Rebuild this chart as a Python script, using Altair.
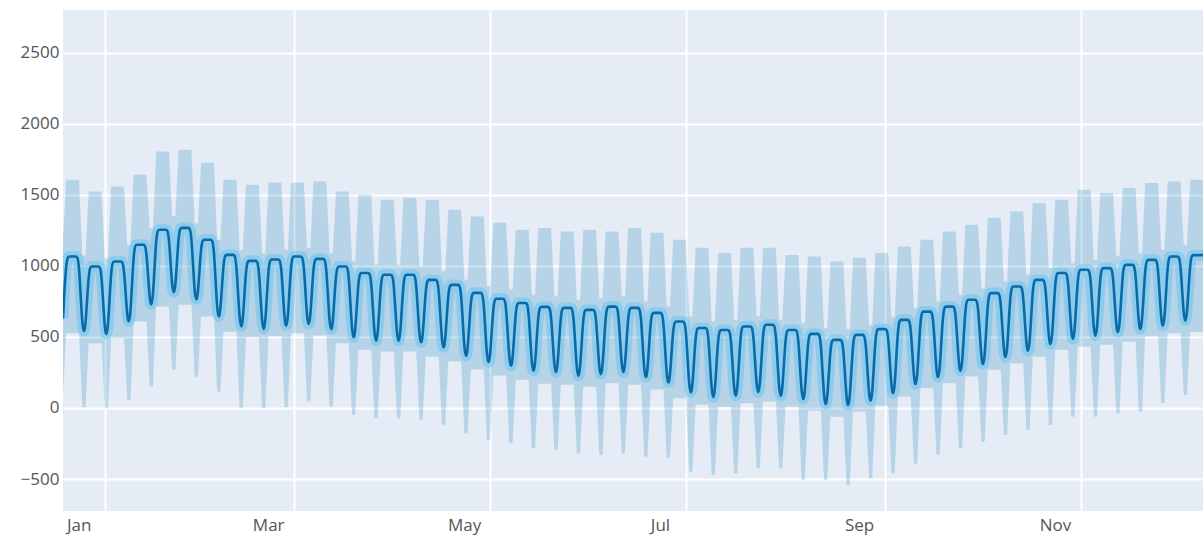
import altair as alt
import pandas as pd

# Weekly forecast levels, one entry per week (weeks start on Monday 2021-12-20).
# Mon-Fri values
weekday_yhat = [1066, 995, 1030, 1148, 1254, 1267, 1183, 1077, 1035, 1045,
                1066, 1049, 995, 950, 937, 937, 901, 866, 810, 768,
                739, 711, 704, 690, 713, 704, 669, 608, 563, 549,
                573, 585, 549, 521, 479, 514, 555, 620, 678, 713,
                761, 808, 855, 901, 950, 972, 984, 1007, 1042, 1066, 1075]
weekday_upper = [1606, 1523, 1559, 1640, 1805, 1817, 1725, 1606, 1570, 1587,
                 1585, 1594, 1523, 1500, 1465, 1479, 1465, 1394, 1347, 1303,
                 1254, 1267, 1242, 1254, 1242, 1267, 1232, 1183, 1127, 1091,
                 1127, 1127, 1077, 1066, 1030, 1056, 1091, 1136, 1183, 1242,
                 1289, 1338, 1383, 1441, 1465, 1535, 1512, 1547, 1582, 1594, 1606]
weekday_lower = [526, 455, 490, 608, 714, 727, 643, 537, 495, 505,
                 526, 509, 455, 410, 397, 397, 361, 326, 270, 228,
                 199, 171, 164, 150, 173, 164, 129, 68, 23, 9,
                 33, 45, 9, -19, -61, -26, 15, 80, 138, 173,
                 221, 268, 315, 361, 410, 432, 444, 467, 502, 526, 535]
# Sat-Sun values
weekend_yhat = [520, 500, 590, 710, 795, 745, 625, 555, 535, 558,
                570, 535, 478, 452, 452, 442, 408, 348, 303, 277,
                242, 232, 206, 218, 232, 197, 161, 90, 56, 66,
                90, 66, 42, 7, 0, 31, 84, 148, 197, 242,
                289, 338, 383, 430, 465, 488, 514, 535, 559, 594]
weekend_upper = [1075, 1054, 1146, 1265, 1350, 1300, 1181, 1110, 1089, 1112,
                 1125, 1089, 1033, 1007, 1007, 997, 962, 902, 857, 831,
                 796, 786, 760, 772, 786, 751, 715, 644, 610, 620,
                 644, 620, 596, 561, 554, 585, 638, 702, 751, 796,
                 843, 892, 937, 984, 1019, 1042, 1068, 1089, 1113, 1148]
weekend_lower = [5, 0, 56, 150, 268, 220, 115, 2, 0, 5,
                 45, 9, -47, -73, -73, -83, -118, -178, -223, -249,
                 -284, -294, -320, -331, -320, -343, -352, -448, -472, -460,
                 -425, -425, -507, -507, -542, -493, -460, -390, -330, -284,
                 -237, -190, -155, -120, -61, -61, -38, -26, 35, 92]

# The Sunday before the first full week
first_day = ("2021-12-19", 630, 100, 1183)

month_ticks = [1, 3, 5, 7, 9, 11]
y_ticks = [-500, 0, 500, 1000, 1500, 2000, 2500]

rows = [dict(ds=first_day[0] + "T00:00:00", yhat=first_day[1], lo=first_day[2], hi=first_day[3])]
days = pd.date_range("2021-12-20", "2022-12-09", freq="D")
for i, d in enumerate(days):
    week, dow = divmod(i, 7)
    if dow < 5:
        rows.append(dict(ds=d.strftime("%Y-%m-%dT00:00:00"), yhat=weekday_yhat[week],
                         lo=weekday_lower[week], hi=weekday_upper[week]))
    else:
        rows.append(dict(ds=d.strftime("%Y-%m-%dT00:00:00"), yhat=weekend_yhat[week],
                         lo=weekend_lower[week], hi=weekend_upper[week]))
df = pd.DataFrame(rows)

x_scale = alt.Scale(domain=[alt.DateTime(year=2021, month=12, date=19),
                            alt.DateTime(year=2022, month=12, date=9)])
y_scale = alt.Scale(domain=[-725, 2800], nice=False, zero=False)

x_axis = alt.Axis(values=[alt.DateTime(year=2022, month=m, date=1) for m in month_ticks],
                  format="%b", title=None, labelOffset=-26, labelPadding=6)
y_axis = alt.Axis(values=y_ticks, title=None, labelPadding=4, format="d")

base = alt.Chart(df)

# uncertainty interval
band = base.mark_area(color="#0072B2", opacity=0.2, clip=True).encode(
    x=alt.X("ds:T", scale=x_scale, axis=x_axis),
    y=alt.Y("lo:Q", scale=y_scale, axis=y_axis),
    y2="hi:Q",
)

# soft glow under the forecast line
halo = base.mark_line(color="#5cc2f2", strokeWidth=11, opacity=0.45, clip=True,
                      interpolate="basis", strokeJoin="round").encode(
    x="ds:T", y="yhat:Q")

# forecast line
line = base.mark_line(color="#0a6aa8", strokeWidth=2.6, clip=True,
                      interpolate="basis", strokeJoin="round").encode(
    x="ds:T", y="yhat:Q")

chart = (band + halo + line).properties(
    width=1140, height=501,
    autosize=alt.AutoSizeParams(type="none"),
    padding={"left": 63, "top": 10, "right": 0, "bottom": 26},
).configure_view(
    fill="#E5ECF6", strokeWidth=0,
).configure_axis(
    domain=False, ticks=False, grid=True, gridColor="#ffffff", gridWidth=2,
    labelFont="Open Sans", labelFontSize=17, labelColor="#555555",
)

chart.save("out.html", embed_options={"renderer": "svg", "actions": False})
